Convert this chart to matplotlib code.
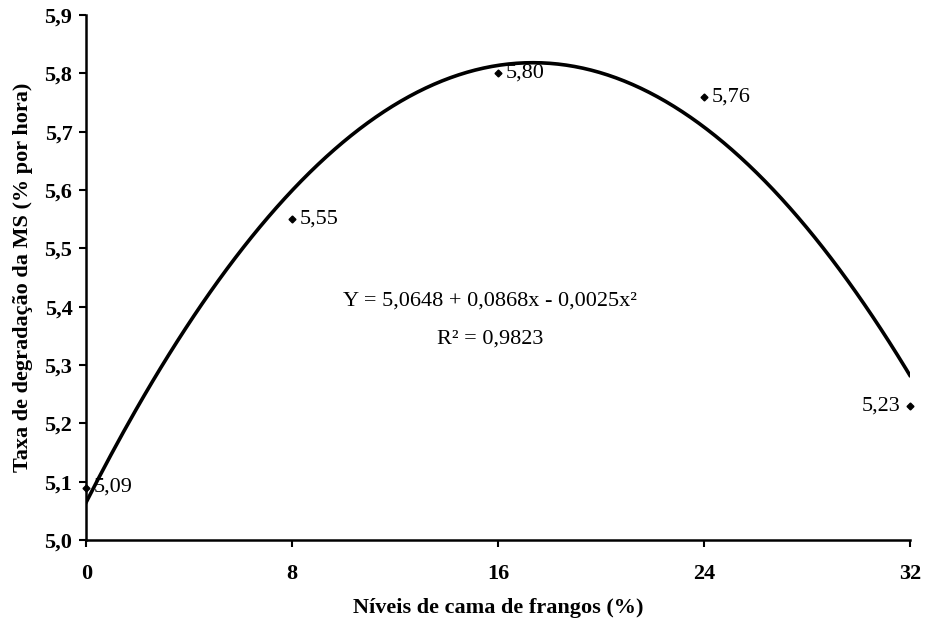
import numpy as np
import matplotlib.pyplot as plt

plt.rcParams['font.family'] = ['Liberation Serif', 'DejaVu Serif']

# níveis de cama de frangos e taxa de degradação observada
niveis = [0, 8, 16, 24, 32]
taxa = [5.09, 5.55, 5.80, 5.76, 5.23]
rotulos = ['5,09', '5,55', '5,80', '5,76', '5,23']

# coeficientes da regressão quadrática
b0, b1, b2 = 5.0648, 0.0868, -0.0025

fig = plt.figure(figsize=(9.37, 6.25), dpi=100)
ax = fig.add_axes([0.092, 0.136, 0.879, 0.840])

xs = np.linspace(0, 32, 200)
ax.plot(xs, b0 + b1 * xs + b2 * xs ** 2, color='black', lw=2.6)
ax.plot(niveis, taxa, 'D', color='black', ms=3.5, clip_on=False)

for x, y, t in zip(niveis, taxa, rotulos):
    if x == 32:
        ax.text(x - 0.35, y, t, ha='right', va='center', fontsize=16)
    else:
        ax.text(x + 0.3, y, t, ha='left', va='center', fontsize=16)

ax.text(15.7, 5.41, 'Y = 5,0648 + 0,0868x - 0,0025x²', ha='center', va='center',
        fontsize=16)
ax.text(15.7, 5.345, 'R² = 0,9823', ha='center', va='center', fontsize=16)

ax.set_xlim(0, 32)
ax.set_ylim(5.0, 5.9)
ax.set_xticks(niveis)
ax.set_xticklabels(['0', '8', '16', '24', '32'])
ax.set_yticks(np.arange(5.0, 5.91, 0.1))
ax.set_yticklabels(['5,0', '5,1', '5,2', '5,3', '5,4', '5,5', '5,6', '5,7', '5,8', '5,9'])
ax.tick_params(labelsize=16, width=1.5, length=5)
for lab in ax.get_xticklabels() + ax.get_yticklabels():
    lab.set_fontweight('bold')
ax.tick_params(axis='x', pad=12)
ax.tick_params(axis='y', pad=5)

ax.spines['top'].set_visible(False)
ax.spines['right'].set_visible(False)
ax.spines['left'].set_linewidth(1.8)
ax.spines['bottom'].set_linewidth(1.8)

ax.set_xlabel('Níveis de cama de frangos (%)', fontsize=16, fontweight='bold', labelpad=10)
ax.set_ylabel('Taxa de degradação da MS (% por hora)', fontsize=16, fontweight='bold',
              labelpad=8)

fig.savefig('out.png', dpi=100)
